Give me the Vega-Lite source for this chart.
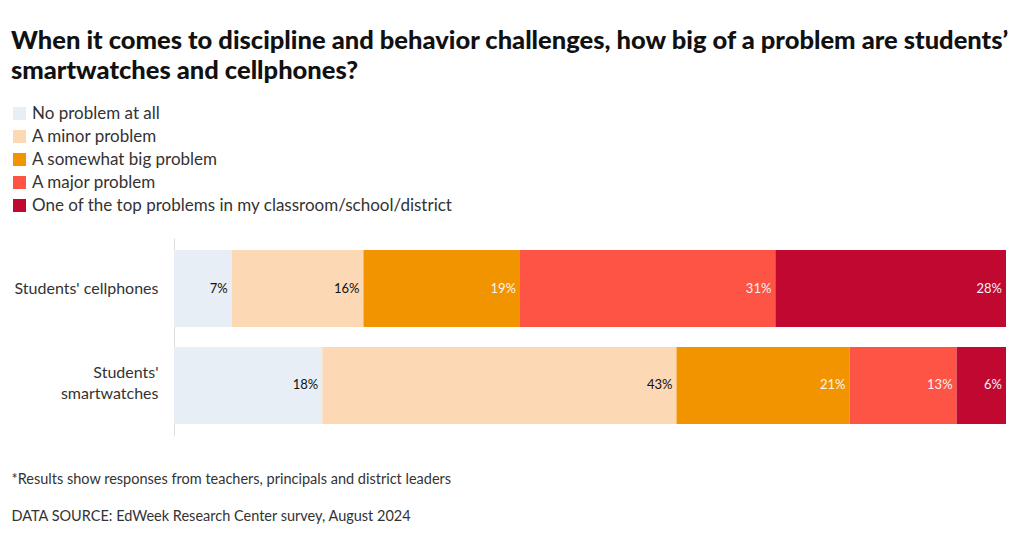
{
  "$schema": "https://vega.github.io/schema/vega-lite/v6.json",
  "width": 832,
  "height": 198,
  "autosize": "none",
  "padding": {"left": 174, "top": 238, "right": 14, "bottom": 100},
  "background": "white",
  "title": {
    "text": ["When it comes to discipline and behavior challenges, how big of a problem are students’", "smartwatches and cellphones?"],
    "anchor": "start",
    "frame": "group",
    "dx": -163,
    "offset": 21,
    "font": "Lato",
    "fontSize": 25.5,
    "fontWeight": 900,
    "color": "#111111",
    "lineHeight": 30
  },
  "config": {"view": {"stroke": null}, "font": "Lato"},
  "data": {
    "values": [
      {"item": "Students' cellphones", "response": "No problem at all", "pct": 7},
      {"item": "Students' cellphones", "response": "A minor problem", "pct": 16},
      {"item": "Students' cellphones", "response": "A somewhat big problem", "pct": 19},
      {"item": "Students' cellphones", "response": "A major problem", "pct": 31},
      {"item": "Students' cellphones", "response": "One of the top problems in my classroom/school/district", "pct": 28},
      {"item": "Students' smartwatches", "response": "No problem at all", "pct": 18},
      {"item": "Students' smartwatches", "response": "A minor problem", "pct": 43},
      {"item": "Students' smartwatches", "response": "A somewhat big problem", "pct": 21},
      {"item": "Students' smartwatches", "response": "A major problem", "pct": 13},
      {"item": "Students' smartwatches", "response": "One of the top problems in my classroom/school/district", "pct": 6}
    ]
  },
  "transform": [
    {"calculate": "indexof(['No problem at all','A minor problem','A somewhat big problem','A major problem','One of the top problems in my classroom/school/district'], datum.response)", "as": "k"},
    {"calculate": "datum.pct + '%'", "as": "label"}
  ],
  "encoding": {
    "y": {
      "field": "item",
      "type": "nominal",
      "sort": null,
      "scale": {"paddingInner": 0.206, "paddingOuter": 0.124},
      "axis": {
        "title": null,
        "ticks": false,
        "domain": true,
        "domainColor": "#dddddd",
        "labelFont": "Lato",
        "labelFontSize": 16,
        "labelColor": "#333333",
        "labelPadding": 16,
        "labelLineHeight": 21,
        "labelLimit": 200,
        "labelOffset": {"condition": {"test": "datum.value == \"Students' smartwatches\"", "value": -12}, "value": 0},
        "labelExpr": "datum.label == \"Students' smartwatches\" ? [\"Students'\", 'smartwatches'] : datum.label"
      }
    },
    "x": {
      "field": "pct",
      "type": "quantitative",
      "stack": "normalize",
      "axis": {
        "labels": false,
        "ticks": false,
        "domain": false,
        "grid": false,
        "title": ["*Results show responses from teachers, principals and district leaders", "DATA SOURCE: EdWeek Research Center survey, August 2024"],
        "titleX": -163,
        "titleY": 36,
        "titleAnchor": "start",
        "titleAlign": "left",
        "titleBaseline": "top",
        "titleFont": "Lato",
        "titleFontSize": 14.5,
        "titleFontWeight": "normal",
        "titleColor": "#333333",
        "titleLineHeight": 37
      }
    },
    "order": {"field": "k", "type": "quantitative"}
  },
  "layer": [
    {
      "mark": {"type": "bar"},
      "encoding": {
        "color": {
          "field": "response",
          "type": "nominal",
          "sort": ["No problem at all", "A minor problem", "A somewhat big problem", "A major problem", "One of the top problems in my classroom/school/district"],
          "scale": {
            "domain": ["No problem at all", "A minor problem", "A somewhat big problem", "A major problem", "One of the top problems in my classroom/school/district"],
            "range": ["#e7eef6", "#fdd8b5", "#f29400", "#fd5445", "#c00830"]
          },
          "legend": {
            "title": null,
            "orient": "none",
            "legendX": -163,
            "legendY": -133,
            "direction": "vertical",
            "symbolType": "square",
            "symbolSize": 169,
            "symbolStrokeWidth": 0,
            "labelFont": "Lato",
            "labelFontSize": 17,
            "labelColor": "#333333",
            "labelOffset": 4,
            "labelLimit": 600,
            "rowPadding": 5
          }
        }
      }
    },
    {
      "mark": {"type": "text", "align": "right", "dx": -4, "fontSize": 13, "font": "Lato"},
      "encoding": {
        "text": {"field": "label"},
        "color": {
          "condition": {"test": "datum.k < 2", "value": "#111111"},
          "value": "#f4f4f4"
        },
        "fontWeight": {
          "condition": {"test": "datum.k < 2", "value": "bold"},
          "value": "normal"
        }
      }
    }
  ]
}
